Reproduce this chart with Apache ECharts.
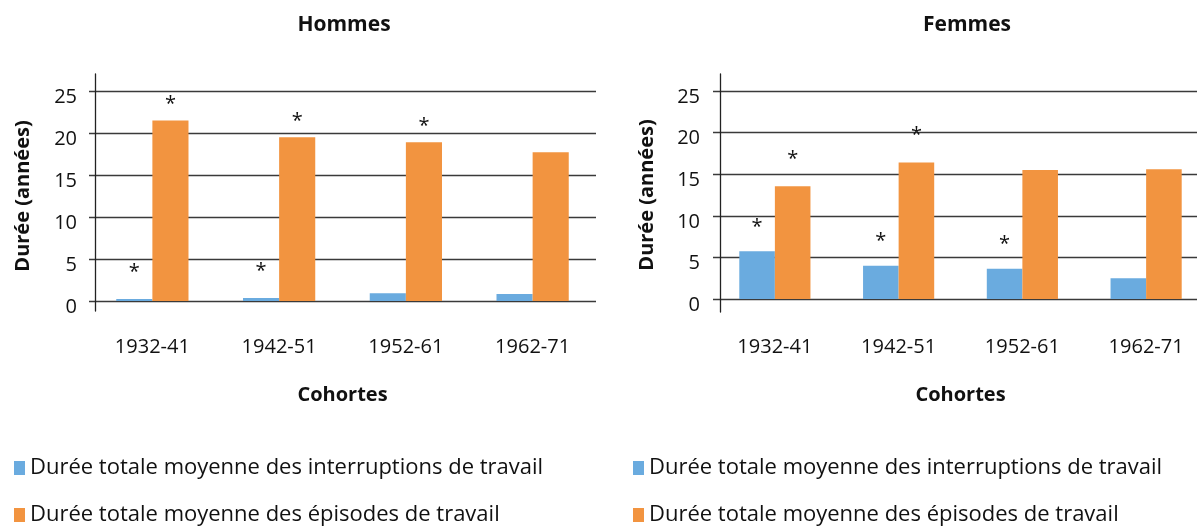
<!DOCTYPE html>
<html>
<head>
<meta charset="utf-8">
<script src="https://cdn.jsdelivr.net/npm/echarts@6/dist/echarts.min.js"></script>
<style>
  html, body { margin: 0; padding: 0; background: #fff; }
  #chart { width: 1197px; height: 526px; }
</style>
</head>
<body>
<div id="chart"></div>
<script>
// cohortes
const cohortes = ['1932-41', '1942-51', '1952-61', '1962-71']
const yTicks = [0, 25]

// Hommes
const hommesInterruptions = [0.24, 0.35, 0.92, 0.83]
const hommesEpisodes = [21.5, 19.5, 18.9, 17.7]
const hommesInterSig = [true, true, false, false]
const hommesEpiSig = [true, true, true, false]

// Femmes
const femmesInterruptions = [5.75, 4.0, 3.65, 2.5]
const femmesEpisodes = [13.55, 16.4, 15.5, 15.6]
const femmesInterSig = [true, true, true, false]
const femmesEpiSig = [true, true, false, false]

const nomInter = 'Durée totale moyenne des interruptions de travail'
const nomEpi = 'Durée totale moyenne des épisodes de travail'
const bleu = '#6aabdf'
const orange = '#f29440'
const font = 'Open Sans'
const noir = '#111'

function barData(values, sig) {
  return values.map((v, i) => ({ value: v, label: { show: sig[i] } }))
}

function barSerie(name, color, values, sig, gridIdx, dist, gap) {
  return {
    name: name,
    type: 'bar',
    xAxisIndex: gridIdx,
    yAxisIndex: gridIdx,
    barGap: '0%',
    barCategoryGap: gap,
    itemStyle: { color: color },
    label: {
      position: 'top',
      distance: dist,
      formatter: '*',
      fontSize: 20,
      fontFamily: font,
      color: noir
    },
    data: barData(values, sig)
  }
}

function mainX(idx, margin) {
  return {
    type: 'category',
    gridIndex: idx,
    data: cohortes,
    axisLine: { show: false },
    axisTick: { show: false },
    axisLabel: { fontSize: 20, fontFamily: font, color: noir, margin: margin },
    name: 'Cohortes',
    nameLocation: 'middle',
    nameGap: margin + 48,
    nameTextStyle: { fontSize: 20, fontWeight: 'bold', fontFamily: font, color: noir }
  }
}

function mainY(idx, margin) {
  return {
    type: 'value',
    gridIndex: idx,
    min: yTicks[0],
    max: yTicks[1],
    interval: 5,
    axisLine: { show: false },
    axisTick: { show: false },
    splitLine: { lineStyle: { color: '#3a3a3a', width: 1.3 } },
    axisLabel: {
      fontSize: 20, fontFamily: font, color: noir, margin: margin,
      verticalAlign: 'top', lineHeight: 12
    },
    name: 'Durée (années)',
    nameLocation: 'middle',
    nameGap: 56,
    nameTextStyle: { fontSize: 20, fontWeight: 'bold', fontFamily: font, color: noir }
  }
}

// axe vertical un peu plus long que la zone des barres
function lineX(idx) {
  return { type: 'category', gridIndex: idx, data: cohortes, show: false }
}
function lineY(idx) {
  return {
    type: 'value', gridIndex: idx, min: 0, max: 1,
    axisLine: { show: true, lineStyle: { color: '#222', width: 1.3 } },
    axisTick: { show: false }, axisLabel: { show: false }, splitLine: { show: false }
  }
}

function legende(left) {
  return {
    orient: 'vertical', left: left, top: 457, padding: 0, itemGap: 25,
    itemWidth: 11, itemHeight: 14, icon: 'rect', data: [nomInter, nomEpi],
    textStyle: { fontSize: 22, fontFamily: font, color: noir }
  }
}

const chart = echarts.init(document.getElementById('chart'))
chart.setOption({
  animation: false,
  textStyle: { fontFamily: font },
  title: [
    { text: 'Hommes', left: 339, top: 10, textAlign: 'center',
      textStyle: { fontSize: 21, fontWeight: 'bold', fontFamily: font, color: noir } },
    { text: 'Femmes', left: 962, top: 10, textAlign: 'center',
      textStyle: { fontSize: 21, fontWeight: 'bold', fontFamily: font, color: noir } }
  ],
  legend: [legende(14), legende(633)],
  grid: [
    { left: 89, top: 91, width: 507, height: 210, outerBoundsMode: 'none' },
    { left: 95, top: 74, width: 500, height: 237, outerBoundsMode: 'none' },
    { left: 713, top: 91, width: 495, height: 208, outerBoundsMode: 'none' },
    { left: 720, top: 74, width: 480, height: 238, outerBoundsMode: 'none' }
  ],
  xAxis: [mainX(0, 36), lineX(1), mainX(2, 38), lineX(3)],
  yAxis: [mainY(0, 12), lineY(1), mainY(2, 13), lineY(3)],
  series: [
    barSerie(nomInter, bleu, hommesInterruptions, hommesInterSig, 0, 17, '43%'),
    barSerie(nomEpi, orange, hommesEpisodes, hommesEpiSig, 0, 6, '43%'),
    barSerie(nomInter, bleu, femmesInterruptions, femmesInterSig, 2, 14, '42.5%'),
    barSerie(nomEpi, orange, femmesEpisodes, femmesEpiSig, 2, 17, '42.5%')
  ]
})
</script>
</body>
</html>
